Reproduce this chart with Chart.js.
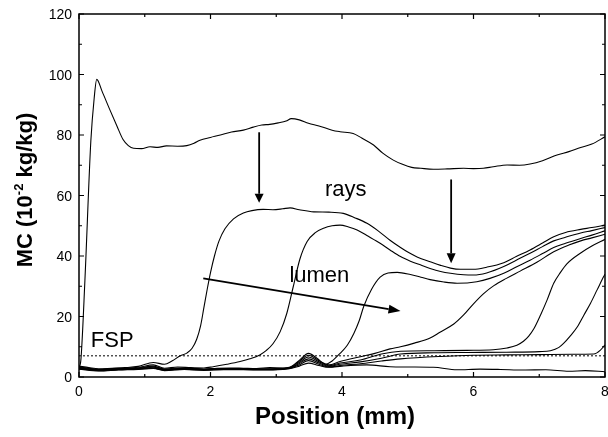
<!DOCTYPE html>
<html lang="en">

<head>
    <meta charset="UTF-8">
    <title>MC vs Position</title>
    <script src="https://cdn.jsdelivr.net/npm/chart.js"></script>
    <style>
        body {
            margin: 0;
            background: #ffffff;
        }

        #wrap {
            width: 608px;
            height: 437px;
        }
    </style>
</head>

<body>
    <div id="wrap"><canvas id="mcChart"></canvas></div>

    <script>
        // axis ticks
        const xTicks = [0, 2, 4, 6, 8];
        const xMinor = [1, 3, 5, 7];
        const yTicks = [0, 20, 40, 60, 80, 100, 120];
        const yMinor = [10, 30, 50, 70, 90, 110];

        // fiber saturation point (dotted line)
        const fspX = [0, 8];
        const fspY = [7, 7];

        // MC profiles (position in mm, MC in 10^-2 kg/kg)
        const xA = [0, 0.03, 0.09, 0.18, 0.23, 0.27, 0.35, 0.47, 0.58, 0.67, 0.75, 0.83, 0.95, 1.08, 1.2, 1.33, 1.5, 1.64, 1.75, 1.84, 2.0, 2.15, 2.32, 2.5, 2.65, 2.78, 2.9, 3.03, 3.15, 3.23, 3.35, 3.49, 3.65, 3.85, 3.97, 4.17, 4.3, 4.48, 4.62, 4.78, 4.92, 5.06, 5.2, 5.39, 5.6, 5.85, 6.0, 6.15, 6.3, 6.51, 6.7, 6.86, 7.05, 7.27, 7.45, 7.63, 7.8, 8.0];
        const yA = [3.0, 6.0, 32.0, 78.0, 92.0, 98.4, 94.5, 88.3, 82.8, 78.5, 76.5, 75.6, 75.5, 76.1, 75.9, 76.4, 76.3, 76.5, 77.3, 78.3, 79.2, 80.0, 81.0, 81.6, 82.6, 83.3, 83.5, 84.0, 84.6, 85.4, 85.0, 83.9, 83.0, 81.6, 81.1, 80.5, 79.0, 76.7, 74.0, 71.7, 70.3, 69.3, 69.0, 68.7, 68.8, 69.0, 68.9, 69.0, 69.5, 70.1, 70.0, 70.4, 71.5, 73.4, 74.5, 75.9, 77.0, 79.4];

        const xB = [0, 0.15, 0.3, 0.5, 0.7, 0.9, 1.13, 1.3, 1.42, 1.54, 1.64, 1.72, 1.79, 1.85, 1.9, 1.95, 2.0, 2.06, 2.13, 2.22, 2.35, 2.5, 2.63, 2.8, 2.95, 3.1, 3.21, 3.35, 3.57, 3.8, 4.02, 4.2, 4.38, 4.55, 4.73, 4.89, 5.0, 5.15, 5.34, 5.5, 5.65, 5.8, 6.0, 6.2, 6.46, 6.65, 6.86, 7.05, 7.22, 7.4, 7.63, 7.8, 8.0];
        const yB = [3.6, 3.1, 2.7, 2.9, 3.1, 3.5, 4.8, 4.2, 5.4, 7.0, 7.9, 9.5, 12.5, 17.0, 23.0, 29.0, 34.5, 40.0, 45.0, 49.0, 52.3, 54.2, 55.0, 55.4, 55.3, 55.6, 55.9, 55.3, 54.6, 54.5, 54.1, 52.6, 50.8, 48.3, 45.2, 42.8, 41.3, 39.6, 38.1, 36.9, 36.0, 35.6, 35.6, 36.3, 37.8, 39.8, 42.0, 44.3, 46.4, 47.8, 48.8, 49.4, 50.2];

        const xC = [0, 0.15, 0.3, 0.5, 0.7, 0.9, 1.13, 1.3, 1.5, 1.7, 1.9, 2.04, 2.25, 2.45, 2.6, 2.75, 2.85, 2.95, 3.06, 3.16, 3.26, 3.36, 3.47, 3.6, 3.72, 3.85, 3.97, 4.1, 4.23, 4.4, 4.58, 4.73, 4.89, 5.04, 5.2, 5.34, 5.5, 5.65, 5.85, 6.0, 6.2, 6.46, 6.65, 6.86, 7.05, 7.22, 7.4, 7.63, 7.8, 8.0];
        const yC = [3.3, 2.9, 2.5, 2.8, 2.9, 3.2, 4.0, 2.9, 3.3, 3.1, 3.0, 3.4, 4.2, 5.1, 6.0, 7.3, 8.8, 11.0, 15.0, 21.0, 30.0, 39.0, 44.8, 47.8, 49.2, 50.0, 50.2, 49.6, 48.6, 46.5, 44.2, 42.0, 39.8, 38.3, 37.0, 35.9, 34.9, 34.3, 33.8, 33.7, 34.4, 36.5, 38.6, 40.9, 43.1, 45.0, 46.2, 47.6, 48.4, 49.4];

        const xD = [0, 0.15, 0.3, 0.5, 0.7, 0.9, 1.13, 1.3, 1.5, 1.7, 1.9, 2.1, 2.3, 2.5, 2.7, 2.9, 3.1, 3.2, 3.35, 3.49, 3.62, 3.75, 3.85, 3.97, 4.08, 4.18, 4.26, 4.33, 4.45, 4.58, 4.7, 4.84, 5.04, 5.2, 5.34, 5.55, 5.75, 6.05, 6.25, 6.46, 6.65, 6.86, 7.05, 7.22, 7.4, 7.63, 7.8, 8.0];
        const yD = [3.2, 2.8, 2.4, 2.6, 2.8, 3.0, 3.6, 2.6, 3.0, 2.9, 2.6, 2.9, 3.0, 2.9, 2.8, 3.1, 3.0, 3.2, 5.5, 7.8, 6.2, 4.2, 5.3, 7.8, 10.5, 14.4, 18.5, 23.3, 29.0, 33.0, 34.4, 34.6, 33.9, 33.0, 32.2, 31.4, 31.0, 31.5, 32.6, 34.3, 36.4, 38.6, 40.8, 42.8, 44.2, 45.8, 46.9, 48.3];

        const xE = [0, 0.3, 0.6, 0.9, 1.13, 1.3, 1.6, 1.9, 2.2, 2.5, 2.8, 3.1, 3.2, 3.35, 3.49, 3.65, 3.8, 3.97, 4.28, 4.5, 4.73, 4.89, 5.1, 5.34, 5.49, 5.7, 5.85, 6.0, 6.15, 6.31, 6.5, 6.71, 6.97, 7.22, 7.45, 7.63, 7.8, 8.0];
        const yE = [3.0, 2.4, 2.7, 2.9, 3.4, 2.5, 2.9, 2.5, 2.8, 2.8, 2.7, 2.9, 3.1, 5.2, 7.2, 5.4, 4.0, 5.1, 6.7, 7.8, 9.3, 10.0, 11.2, 12.9, 14.8, 17.5, 20.5, 24.2, 27.5, 30.2, 32.6, 35.0, 38.0, 41.4, 43.6, 45.0, 46.0, 47.2];

        const xF = [0, 0.3, 0.6, 0.9, 1.13, 1.3, 1.6, 1.9, 2.2, 2.5, 2.8, 3.1, 3.2, 3.35, 3.49, 3.65, 3.8, 3.97, 4.28, 4.6, 4.89, 5.4, 5.9, 6.3, 6.51, 6.66, 6.76, 6.84, 6.92, 7.02, 7.12, 7.22, 7.32, 7.42, 7.63, 7.8, 8.0];
        const yF = [2.9, 2.3, 2.6, 2.8, 3.2, 2.4, 2.8, 2.5, 2.7, 2.7, 2.6, 2.8, 3.0, 4.8, 6.6, 5.0, 3.7, 4.6, 5.6, 7.6, 8.5, 8.7, 8.8, 9.0, 9.6, 10.5, 11.8, 13.5, 16.0, 20.5, 25.5, 31.0, 34.5, 37.4, 41.0, 43.3, 45.5];

        const xG = [0, 0.3, 0.6, 0.9, 1.13, 1.3, 1.6, 1.9, 2.2, 2.5, 2.8, 3.1, 3.2, 3.35, 3.49, 3.65, 3.8, 3.97, 4.28, 4.6, 4.89, 5.4, 5.9, 6.5, 7.0, 7.17, 7.3, 7.37, 7.47, 7.58, 7.68, 7.78, 7.88, 7.98, 8.0];
        const yG = [2.8, 2.2, 2.5, 2.7, 3.0, 2.3, 2.7, 2.4, 2.6, 2.6, 2.5, 2.7, 2.9, 4.4, 6.0, 4.6, 3.5, 4.2, 5.0, 6.2, 7.6, 8.0, 8.1, 8.2, 8.4, 8.7, 9.8, 11.1, 13.5, 16.6, 20.5, 24.4, 28.8, 33.2, 34.0];

        const xH = [0, 0.3, 0.6, 0.9, 1.13, 1.3, 1.6, 1.9, 2.2, 2.5, 2.8, 3.1, 3.2, 3.35, 3.49, 3.65, 3.8, 3.97, 4.28, 4.6, 4.89, 5.5, 6.0, 6.5, 7.0, 7.5, 7.83, 7.93, 8.0];
        const yH = [2.7, 2.1, 2.4, 2.6, 2.9, 2.2, 2.6, 2.3, 2.5, 2.5, 2.4, 2.6, 2.8, 4.0, 5.4, 4.2, 3.3, 3.8, 4.4, 5.3, 6.0, 6.8, 7.2, 7.3, 7.4, 7.5, 7.6, 8.9, 10.6];

        const xI = [0, 0.3, 0.6, 0.9, 1.13, 1.3, 1.6, 1.9, 2.2, 2.5, 2.8, 3.1, 3.2, 3.35, 3.49, 3.65, 3.8, 4.0, 4.38, 4.73, 5.0, 5.39, 5.75, 6.1, 6.41, 6.76, 7.1, 7.45, 7.7, 8.0];
        const yI = [2.6, 2.0, 2.3, 2.5, 2.8, 2.1, 2.5, 2.2, 2.4, 2.4, 2.3, 2.5, 2.7, 3.6, 4.6, 3.8, 3.2, 3.6, 4.0, 3.4, 3.3, 3.2, 2.4, 2.6, 2.5, 2.3, 2.4, 1.9, 2.1, 1.75];

        // annotations (data coordinates)
        const arrowRays1 = [[2.74, 80.9], [2.74, 57.6]];
        const arrowRays2 = [[5.66, 65.3], [5.66, 37.6]];
        const arrowLumen = [[1.89, 32.6], [4.89, 21.8]];
        const labels = [
            { text: 'rays', x: 3.74, y: 59.9 },
            { text: 'lumen', x: 3.2, y: 31.5 },
            { text: 'FSP', x: 0.18, y: 10.0 }
        ];

        const pairs = (xs, ys) => xs.map((v, i) => ({ x: v, y: ys[i] }));

        const curve = (xs, ys) => ({
            data: pairs(xs, ys),
            borderColor: '#000000',
            borderWidth: 1.1,
            pointRadius: 0,
            showLine: true,
            fill: false,
            tension: 0.4,
            cubicInterpolationMode: 'monotone'
        });

        const datasets = [
            curve(xA, yA), curve(xB, yB), curve(xC, yC), curve(xD, yD), curve(xE, yE),
            curve(xF, yF), curve(xG, yG), curve(xH, yH), curve(xI, yI),
            {
                data: pairs(fspX, fspY),
                borderColor: '#000000',
                borderWidth: 1,
                borderDash: [2, 2],
                pointRadius: 0,
                showLine: true,
                tension: 0
            }
        ];

        function arrow(ctx, x, y, pts, headLen, headHalf) {
            const x0 = x.getPixelForValue(pts[0][0]), y0 = y.getPixelForValue(pts[0][1]);
            const x1 = x.getPixelForValue(pts[1][0]), y1 = y.getPixelForValue(pts[1][1]);
            const ang = Math.atan2(y1 - y0, x1 - x0);
            const bx = x1 - headLen * Math.cos(ang), by = y1 - headLen * Math.sin(ang);
            ctx.beginPath();
            ctx.moveTo(x0, y0);
            ctx.lineTo(bx, by);
            ctx.lineWidth = 1.8;
            ctx.stroke();
            ctx.beginPath();
            ctx.moveTo(x1, y1);
            ctx.lineTo(bx + headHalf * Math.sin(ang), by - headHalf * Math.cos(ang));
            ctx.lineTo(bx - headHalf * Math.sin(ang), by + headHalf * Math.cos(ang));
            ctx.closePath();
            ctx.fill();
        }

        // frame, inward ticks, tick labels, titles and annotations
        const decor = {
            id: 'decor',
            afterDraw(chart) {
                const { ctx, chartArea: a, scales: { x, y } } = chart;
                ctx.save();
                ctx.strokeStyle = '#000';
                ctx.fillStyle = '#000';

                ctx.lineWidth = 1.5;
                ctx.strokeRect(a.left, a.top, a.right - a.left, a.bottom - a.top);

                ctx.lineWidth = 1.2;
                ctx.beginPath();
                xTicks.concat(xMinor).forEach(v => {
                    const len = xTicks.includes(v) ? 5 : 3;
                    const px = x.getPixelForValue(v);
                    ctx.moveTo(px, a.bottom); ctx.lineTo(px, a.bottom - len);
                    ctx.moveTo(px, a.top); ctx.lineTo(px, a.top + len);
                });
                yTicks.concat(yMinor).forEach(v => {
                    const len = yTicks.includes(v) ? 5 : 3;
                    const py = y.getPixelForValue(v);
                    ctx.moveTo(a.left, py); ctx.lineTo(a.left + len, py);
                    ctx.moveTo(a.right, py); ctx.lineTo(a.right - len, py);
                });
                ctx.stroke();

                ctx.font = '14px "Liberation Sans", Arial, sans-serif';
                ctx.textBaseline = 'alphabetic';
                ctx.textAlign = 'center';
                xTicks.forEach(v => ctx.fillText(String(v), x.getPixelForValue(v), a.bottom + 19));
                ctx.textAlign = 'right';
                yTicks.forEach(v => ctx.fillText(String(v), a.left - 7, y.getPixelForValue(v) + 5));

                // x title
                ctx.font = 'bold 24px "Liberation Sans", Arial, sans-serif';
                ctx.textAlign = 'center';
                ctx.fillText('Position (mm)', (a.left + a.right) / 2 - 7, a.bottom + 47);

                // y title with superscript
                ctx.save();
                ctx.translate(32, 190);
                ctx.rotate(-Math.PI / 2);
                ctx.textAlign = 'left';
                const big = 'bold 22px "Liberation Sans", Arial, sans-serif';
                const small = 'bold 13px "Liberation Sans", Arial, sans-serif';
                ctx.font = big;
                const w1 = ctx.measureText('MC (10').width;
                const w3 = ctx.measureText(' kg/kg)').width;
                ctx.font = small;
                const w2 = ctx.measureText('-2').width;
                let cx = -(w1 + w2 + w3) / 2;
                ctx.font = big;
                ctx.fillText('MC (10', cx, 0);
                cx += w1;
                ctx.font = small;
                ctx.fillText('-2', cx, -9);
                cx += w2;
                ctx.font = big;
                ctx.fillText(' kg/kg)', cx, 0);
                ctx.restore();

                // annotations
                ctx.font = '22px "Liberation Sans", Arial, sans-serif';
                ctx.textAlign = 'left';
                labels.forEach(l => ctx.fillText(l.text, x.getPixelForValue(l.x), y.getPixelForValue(l.y)));

                arrow(ctx, x, y, arrowRays1, 9, 4.5);
                arrow(ctx, x, y, arrowRays2, 10, 4.5);
                arrow(ctx, x, y, arrowLumen, 12, 4.5);

                ctx.restore();
            }
        };

        const ctx = document.getElementById('mcChart').getContext('2d');

        new Chart(ctx, {
            type: 'scatter',
            data: { datasets: datasets },
            options: {
                responsive: true,
                maintainAspectRatio: false,
                animation: false,
                layout: {
                    padding: { left: 79, right: 3, top: 14, bottom: 60 }
                },
                plugins: {
                    legend: { display: false },
                    tooltip: { enabled: false }
                },
                scales: {
                    x: { type: 'linear', min: 0, max: 8, display: false },
                    y: { type: 'linear', min: 0, max: 120, display: false }
                }
            },
            plugins: [decor]
        });
    </script>
</body>

</html>
